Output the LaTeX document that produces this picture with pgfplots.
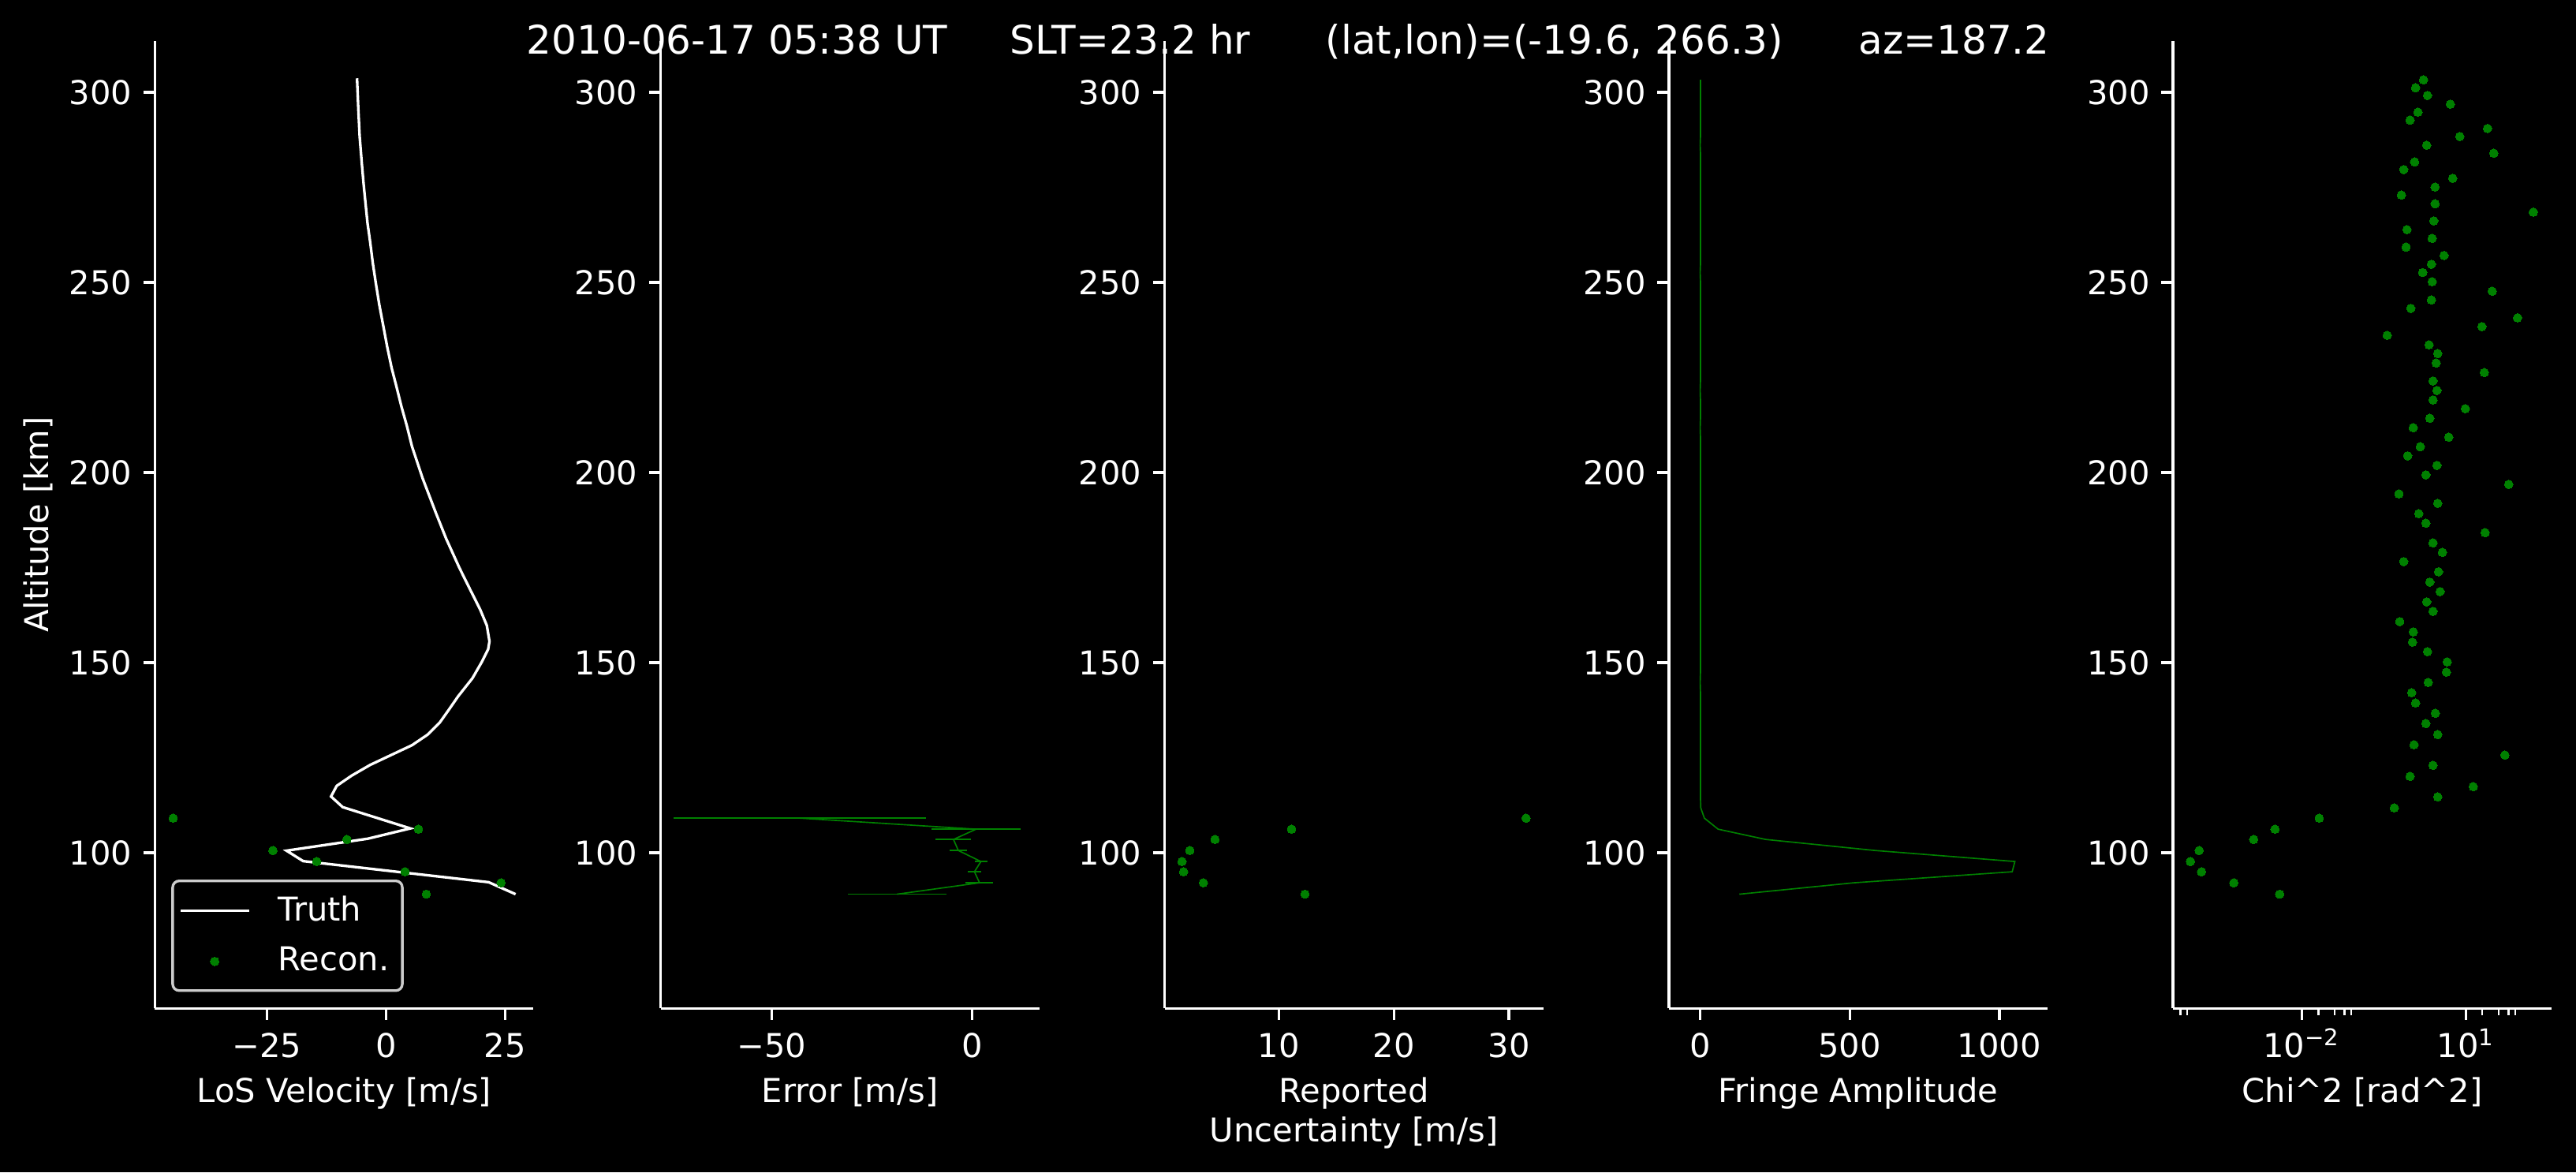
\documentclass[border=0pt]{standalone}
\usepackage{fontspec}
\setmainfont{DejaVu Sans}
\usepackage{pgfplots}
\pgfplotsset{compat=1.18}
\definecolor{mplg}{RGB}{0,128,0}
\definecolor{legedge}{RGB}{204,204,204}
\pgfplotsset{
  mplpanel/.style={
    scale only axis, width=115.2pt, height=294.3pt, anchor=south west,
    axis lines*=left,
    axis line style={white, line width=0.8pt},
    tick align=outside,
    major tick length=3.5pt, minor tick length=2pt,
    tick style={white, line width=0.8pt},
    minor tick style={white, line width=0.6pt},
    ymin=59.07, ymax=313.5,
    ytick={100,150,200,250,300},
    /pgf/number format/assume math mode=true,
    /pgf/number format/1000 sep={},
    ticklabel style={text=white, font=\fontsize{10}{12}\selectfont},
    xticklabel style={text height=7.3pt, text depth=0pt, yshift=-0.7pt},
    label style={text=white, font=\fontsize{10}{12}\selectfont},
    xlabel style={at={(axis description cs:0.5,0)}, anchor=north, yshift=-20.8pt, inner sep=0pt, align=center},
  },
}
\begin{document}
\begin{tikzpicture}
\fill[black] (0,0) rectangle (783.84pt,356.64pt);
\path[use as bounding box] (0,0) rectangle (783.84pt,356.64pt);

% Panel 1: LoS velocity
\begin{axis}[mplpanel, at={(47.14pt,49.85pt)},
  xmin=-48.53, xmax=30.97, xtick={-25,0,25}, xticklabels={−25,0,25},
  xlabel={LoS Velocity [m/s]},
  ylabel={Altitude [km]},
  ylabel style={at={(axis description cs:-0.308,0.5)}, anchor=center},
  legend image code/.code={\draw[mark repeat=2,mark phase=2,#1] plot coordinates {(0pt,0pt) (10.4pt,0pt) (20.8pt,0pt)};},
  legend style={at={(axis description cs:0,0)}, anchor=south west, xshift=5pt, yshift=5pt,
    fill=black, draw=legedge, line width=0.8pt, rounded corners=2pt, text=white,
    font=\fontsize{10}{12}\selectfont, inner xsep=2pt, inner ysep=2.5pt, row sep=2.5pt,
    cells={anchor=west}, /tikz/every odd column/.append style={column sep=6.5pt}},
]
\addplot[white, line width=0.8pt] table[x=v, y=alt] {
v alt
27.2 89.1
21.56 92.25
-17.4 97.8
-20.9 100.55
-3.81 103.7
5.1 106.4
-9.1 112.0
-11.55 114.8
-10.35 117.6
-7.2 120.3
-3.34 123.1
5.47 128.3
8.77 131.1
11.25 134.2
13.18 137.6
15.11 141.1
18.14 145.9
20.07 150.1
21.44 153.5
21.72 155.6
21.16 159.8
19.79 163.9
17.59 169.4
15.38 175.0
12.63 182.6
10.43 189.5
7.68 198.5
5.47 206.8
4.37 212.3
3.27 217.2
2.17 222.7
1.18 227.5
0.24 233.1
-0.58 238.6
-1.41 244.1
-2.13 249.7
-2.79 255.2
-3.34 260.7
-3.89 265.6
-4.33 271.1
-4.71 275.9
-5.10 281.5
-5.54 288.4
-5.81 295.3
-6.09 303.7
};
\addplot[only marks, mark=*, mark size=1.3pt, mplg, mark options={draw=mplg, fill=mplg, line width=0pt}] table[x=v, y=alt] {
v alt
8.46 89.1
24.15 92.1
3.98 95.0
-14.55 97.7
-23.75 100.6
-8.2 103.5
6.8 106.2
-44.7 109.1
};
\legend{Truth, Recon.}
\end{axis}

% Panel 2: Error
\begin{axis}[mplpanel, at={(201.02pt,49.85pt)},
  xmin=-77.7, xmax=16.8, xtick={-50,0}, xticklabels={−50,0},
  xlabel={Error [m/s]},
]
\addplot[mplg, line width=0.4pt, no marks, error bars/.cd, x dir=both, x explicit, error mark=none, error bar style={line width=0.4pt, mplg}]
 table[x=e, y=alt, x error=u] {
e alt u
-18.7 89.1 12.27
1.9 92.1 3.43
0.63 95.0 1.71
2.25 97.7 1.57
-3.4 100.6 2.25
-4.6 103.5 4.44
1.03 106.2 11.1
-42.9 109.1 31.5
};
\end{axis}

% Panel 3: Reported uncertainty
\begin{axis}[mplpanel, at={(354.41pt,49.85pt)},
  xmin=0.07, xmax=33.0, xtick={10,20,30},
  xlabel={Reported\\Uncertainty [m/s]},
]
\addplot[only marks, mark=*, mark size=1.3pt, mplg, mark options={draw=mplg, fill=mplg, line width=0pt}] table[x=u, y=alt] {
u alt
12.27 89.1
3.43 92.1
1.71 95.0
1.57 97.7
2.25 100.6
4.44 103.5
11.1 106.2
31.5 109.1
};
\end{axis}

% Panel 4: Fringe amplitude
\begin{axis}[mplpanel, at={(507.82pt,49.85pt)},
  xmin=-104.5, xmax=1161, xtick={0,500,1000}, xticklabels={0,500,1000},
  xlabel={Fringe Amplitude},
]
\addplot[mplg, line width=0.4pt] table[x=a, y=alt] {
a alt
131 89.1
514 92.1
1043 95.0
1052 97.7
584 100.6
219 103.5
60 106.2
14 109.1
2 111.8
1 114.7
1 117.4
1 120.1
1 123.0
1 125.7
1 128.4
1 131.1
1 134.0
1 136.7
1 139.4
1 142.1
0 144.8
1 147.5
1 150.2
1 152.9
1 155.4
1 158.1
1 160.8
1 163.5
1 166.0
1 168.7
1 171.2
1 173.9
1 176.6
1 179.0
1 181.5
1 184.2
1 186.7
1 189.2
1 191.9
1 194.4
1 196.9
1 199.4
1 201.9
1 204.4
1 206.8
1 209.3
0 211.8
1 214.3
1 216.8
1 219.1
0 221.6
1 224.1
1 226.3
1 228.8
1 231.3
1 233.6
1 236.1
1 238.4
1 240.7
1 243.2
1 245.4
1 247.7
1 250.2
0 252.6
1 254.8
1 257.1
1 259.3
1 261.6
1 263.9
1 266.2
1 268.5
1 270.7
1 273.0
1 275.1
1 277.4
1 279.7
1 281.7
1 284.0
0 286.1
1 288.4
1 290.5
1 292.7
1 294.8
1 296.9
1 299.2
1 301.2
1 303.3
};
\end{axis}

% Panel 5: Chi^2
\begin{axis}[mplpanel, at={(661.2pt,49.85pt)},
  xmode=log, xmin=4.4e-5, xmax=370,
  xtick={0.01,10}, xticklabels={10\textsuperscript{−2},10\textsuperscript{1}},
  minor xtick={6e-5,8e-5,0.02,0.04,0.06,0.08,20,40,60,80},
  xlabel={Chi\textasciicircum 2 [rad\textasciicircum 2]},
]
\addplot[only marks, mark=*, mark size=1.3pt, mplg, mark options={draw=mplg, fill=mplg, line width=0pt}] table[x=c, y=alt] {
c alt
0.003936 89.1
0.000571 92.1
0.0001462 95.0
0.0000916 97.7
0.0001321 100.6
0.001315 103.5
0.00323 106.2
0.0208 109.1
0.491 111.8
3.06 114.7
13.68 117.4
0.955 120.1
2.506 123.0
51.8 125.7
1.127 128.4
3.06 131.1
1.858 134.0
2.767 136.7
1.205 139.4
1.021 142.1
2.051 144.8
4.406 147.5
4.56 150.2
1.986 152.9
1.054 155.4
1.091 158.1
0.619 160.8
2.506 163.5
1.919 166.0
3.381 168.7
2.193 171.2
3.162 173.9
0.731 176.6
3.733 179.0
2.506 181.5
22.54 184.2
1.858 186.7
1.377 189.2
3.06 191.9
0.598 194.4
61.1 196.9
1.858 199.4
2.958 201.9
0.863 204.4
1.472 206.8
4.875 209.3
1.091 211.8
2.193 214.3
9.79 216.8
2.506 219.1
2.958 221.6
2.506 224.1
21.78 226.3
2.864 228.8
3.06 231.3
2.123 233.6
0.364 236.1
19.72 238.4
88.1 240.7
0.986 243.2
2.344 245.4
30.4 247.7
2.421 250.2
1.626 252.6
2.344 254.8
3.99 257.1
0.807 259.3
2.421 261.6
0.836 263.9
2.588 266.2
171.4 268.5
2.735 270.7
0.662 273.0
2.735 275.1
5.75 277.4
0.731 279.7
1.153 281.7
32.5 284.0
1.919 286.1
7.76 288.4
24.9 290.5
0.955 292.7
1.330 294.8
5.21 296.9
1.986 299.2
1.205 301.2
1.679 303.3
};
\end{axis}

\node[anchor=base, text=white, font=\fontsize{12}{14.4}\selectfont, inner sep=0pt] at (392pt,340.3pt)
 {2010-06-17 05:38 UT\hspace{1.59em}SLT=23.2 hr\hspace{1.908em}(lat,lon)=(-19.6, 266.3)\hspace{1.908em}az=187.2};
\end{tikzpicture}
\end{document}
